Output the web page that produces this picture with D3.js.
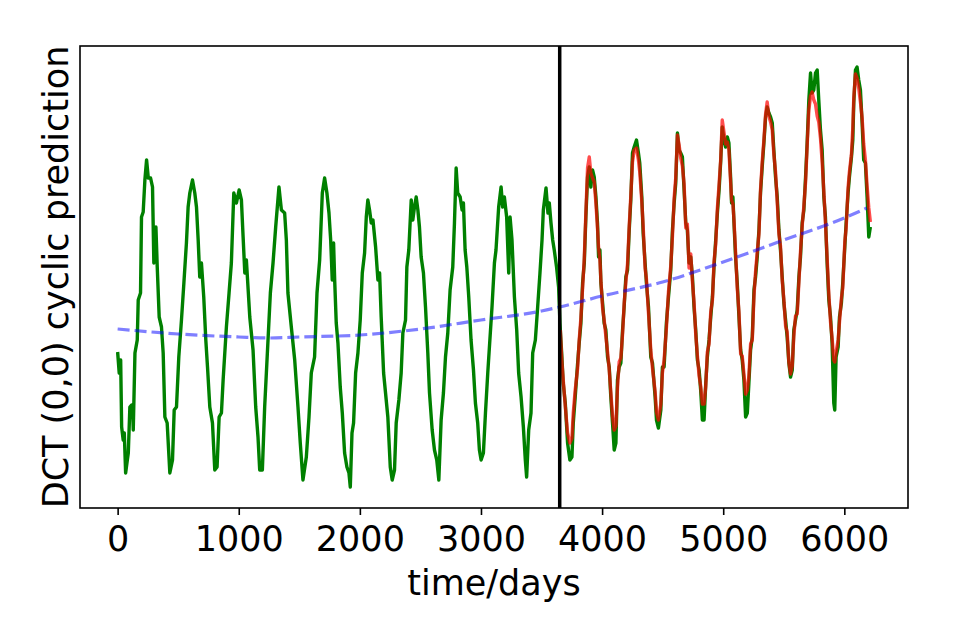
<!DOCTYPE html>
<html>
<head>
<meta charset="utf-8">
<script src="https://cdn.jsdelivr.net/npm/d3@7/dist/d3.min.js"></script>
<style>
  body { margin: 0; background: #fff; }
  text { font-family: "DejaVu Sans", sans-serif; }
</style>
</head>
<body>
<div id="chart"></div>
<script>
var greenPts = [
  [0,15.6],[13,13.5],[25,14.8],[33,8.1],[46,6.8],[55,7.5],[66,3.5],[80,4.8],[88,5.5],[101,10.1],[115,10.3],[123,10.1],[129,7.8],
  [143,15.5],[162,16.8],[170,20.8],[189,21.5],[197,29.1],[211,29.6],[225,32.8],[239,34.8],[253,33.0],[272,33.0],[288,32.1],
  [299,24.5],[316,28.1],[327,24.1],[343,19.1],[362,18.1],[376,15.5],[390,9.1],[409,8.5],[431,3.5],[453,4.8],[467,9.8],[486,10.1],
  [505,15.1],[527,18.8],[547,22.5],[568,26.5],[582,30.1],[596,31.5],[618,32.8],[637,31.5],[651,30.1],[665,26.8],[678,23.1],
  [692,24.5],[711,21.1],[728,16.8],[742,14.1],[761,10.1],[783,8.5],[802,3.8],[821,4.1],[838,9.1],[857,9.5],[871,12.8],[898,18.1],
  [920,21.5],[939,24.5],[959,31.5],[981,30.5],[1003,31.8],[1022,30.8],[1036,27.1],[1050,23.5],[1063,24.8],[1091,19.1],[1118,15.8],
  [1140,10.1],[1159,7.1],[1173,3.8],[1195,3.8],[1214,10.1],[1228,13.5],[1261,21.5],[1283,24.5],[1305,28.1],[1332,32.1],[1352,29.8],
  [1379,29.5],[1393,26.8],[1406,21.5],[1434,18.1],[1462,14.8],[1489,10.1],[1508,6.5],[1530,2.8],[1558,5.1],[1580,9.1],[1599,13.5],
  [1626,15.1],[1646,21.5],[1668,24.8],[1690,31.5],[1709,33.0],[1728,31.5],[1745,29.5],[1759,26.8],[1772,22.8],[1783,26.5],
  [1792,22.8],[1805,18.5],[1819,16.5],[1838,12.1],[1855,9.5],[1874,5.5],[1893,4.1],[1910,3.5],[1921,2.1],[1935,7.5],[1948,8.5],
  [1965,13.5],[1984,15.5],[2003,18.8],[2020,23.5],[2039,25.5],[2053,29.1],[2066,30.8],[2080,29.8],[2094,28.5],[2108,28.8],
  [2130,26.1],[2149,22.8],[2163,23.5],[2176,19.1],[2196,13.5],[2212,11.5],[2231,9.1],[2251,4.1],[2267,2.8],[2286,3.8],[2300,8.5],
  [2322,10.8],[2341,13.5],[2355,17.5],[2377,18.8],[2388,24.1],[2404,25.8],[2424,30.8],[2437,28.8],[2451,30.1],[2465,31.1],
  [2479,29.8],[2492,28.1],[2506,25.1],[2525,23.5],[2542,20.1],[2561,15.5],[2575,11.5],[2597,7.8],[2616,5.8],[2635,4.8],[2652,2.8],
  [2671,8.8],[2690,11.5],[2707,15.1],[2726,17.5],[2745,21.8],[2767,24.1],[2781,28.5],[2795,34.0],[2808,31.5],[2828,31.1],
  [2844,29.8],[2855,30.5],[2869,25.8],[2883,24.1],[2899,21.1],[2918,16.8],[2938,13.8],[2954,10.5],[2973,8.5],[2987,5.8],[3001,4.8],
  [3020,5.5],[3037,9.5],[3056,13.5],[3075,17.1],[3091,20.1],[3111,24.5],[3124,25.8],[3146,30.1],[3166,32.1],[3179,30.1],
  [3193,31.1],[3212,29.1],[3229,23.5],[3240,29.1],[3256,26.8],[3276,21.1],[3295,17.8],[3311,13.5],[3331,11.1],[3350,8.1],
  [3366,4.8],[3377,3.1],[3394,7.8],[3413,9.5],[3427,15.5],[3449,16.8],[3468,20.1],[3487,23.5],[3504,26.8],[3515,29.8],[3537,32.0],
  [3553,29.5],[3564,30.5],[3578,28.5],[3592,26.8],[3605,25.8],[3624,24.1],[3641,22.1],[3652,18.5],[3668,15.1],[3679,12.5],
  [3696,10.5],[3715,6.5],[3734,4.8],[3751,5.1],[3762,8.5],[3778,11.1],[3798,14.5],[3811,16.5],[3825,18.5],[3839,22.5],[3853,24.5],
  [3866,29.1],[3880,33.1],[3894,34.1],[3907,32.1],[3921,33.8],[3935,33.1],[3949,31.1],[3962,28.5],[3971,25.1],[3982,25.8],
  [3990,22.5],[4004,20.5],[4017,18.5],[4031,17.8],[4045,15.1],[4059,14.1],[4072,11.1],[4086,8.5],[4100,5.8],[4114,6.5],[4127,12.8],
  [4141,14.1],[4155,14.5],[4169,17.8],[4182,20.1],[4196,23.1],[4210,23.8],[4224,27.8],[4237,30.8],[4251,35.5],[4265,36.1],
  [4284,36.8],[4300,35.5],[4311,34.5],[4328,31.1],[4339,27.5],[4355,24.5],[4366,22.5],[4383,20.1],[4402,15.1],[4416,14.5],
  [4438,11.1],[4449,8.8],[4465,8.0],[4485,9.8],[4498,14.1],[4512,14.1],[4531,18.5],[4548,21.1],[4567,23.8],[4581,27.8],[4595,30.5],
  [4608,32.5],[4622,37.5],[4636,35.8],[4649,35.5],[4663,35.1],[4677,31.8],[4691,28.5],[4704,27.8],[4718,24.5],[4732,25.1],
  [4746,23.1],[4759,20.1],[4773,17.8],[4787,14.8],[4801,13.8],[4814,11.8],[4828,8.8],[4842,8.8],[4856,12.5],[4869,15.1],
  [4883,16.8],[4897,19.1],[4911,21.1],[4924,24.1],[4938,26.8],[4952,29.5],[4966,31.8],[4979,34.6],[4992,38.1],[5006,36.8],
  [5020,36.1],[5034,37.1],[5047,36.5],[5061,33.1],[5069,30.5],[5080,31.1],[5089,28.5],[5102,25.1],[5116,22.5],[5130,19.1],
  [5144,15.8],[5157,14.8],[5171,12.8],[5185,9.1],[5199,9.5],[5212,12.5],[5226,15.8],[5240,17.1],[5254,21.8],[5267,23.1],
  [5281,25.1],[5295,27.8],[5308,31.5],[5322,34.1],[5336,36.5],[5350,39.1],[5363,40.1],[5377,39.5],[5391,39.1],[5405,38.5],
  [5418,35.8],[5432,33.1],[5446,31.1],[5460,27.8],[5473,25.8],[5487,23.1],[5501,20.5],[5515,18.8],[5528,17.1],[5542,14.5],
  [5556,13.1],[5570,13.8],[5583,17.8],[5597,18.8],[5611,19.8],[5625,23.1],[5638,25.1],[5652,28.5],[5666,29.8],[5680,33.1],
  [5693,36.5],[5707,40.8],[5721,43.5],[5734,41.5],[5748,41.8],[5762,43.5],[5776,43.8],[5789,40.8],[5803,37.8],[5817,35.8],
  [5831,31.1],[5844,29.1],[5858,24.5],[5872,20.8],[5886,19.1],[5899,16.5],[5913,10.5],[5921,9.8],[5932,15.1],[5949,16.1],
  [5960,19.1],[5976,20.5],[5987,22.5],[6004,26.1],[6015,28.5],[6031,31.5],[6042,33.1],[6059,35.1],[6070,36.8],[6078,40.5],
  [6092,43.8],[6105,44.1],[6119,42.8],[6133,41.8],[6147,38.5],[6160,34.8],[6174,34.5],[6188,31.1],[6202,27.1],[6215,28.1]
];

// cyclic prediction after the split (day, value)
var redPts = [
  [3655,17.8],[3668,14.6],[3679,12.8],[3696,10.2],[3715,7.5],[3734,6.5],[3751,7.0],[3762,9.5],[3778,11.8],[3798,14.0],[3811,16.8],
  [3825,19.0],[3839,22.0],[3853,25.0],[3866,29.5],[3880,34.0],[3894,35.1],[3907,33.5],[3921,33.0],[3935,32.6],[3949,30.5],
  [3962,28.0],[3971,26.0],[3982,24.8],[3990,22.8],[4004,20.0],[4017,18.8],[4031,17.2],[4045,15.6],[4059,13.8],[4072,11.6],
  [4086,9.2],[4100,7.8],[4114,8.2],[4127,12.0],[4141,14.6],[4155,15.0],[4169,17.4],[4182,20.4],[4196,22.6],[4210,24.4],[4224,28.2],
  [4237,31.2],[4251,34.6],[4265,35.8],[4284,36.0],[4300,34.8],[4311,33.6],[4328,30.6],[4339,28.2],[4355,24.0],[4366,22.9],
  [4383,19.5],[4402,15.8],[4416,14.0],[4438,11.6],[4449,9.6],[4465,8.8],[4485,10.4],[4498,13.5],[4512,14.8],[4531,18.0],
  [4548,21.6],[4567,24.2],[4581,27.2],[4595,31.0],[4608,33.0],[4622,37.3],[4636,36.3],[4649,35.0],[4663,34.2],[4677,32.4],
  [4691,28.0],[4704,28.4],[4718,24.0],[4732,25.4],[4746,22.6],[4759,20.6],[4773,17.4],[4787,15.2],[4801,13.2],[4814,12.2],
  [4828,10.4],[4842,10.4],[4856,12.2],[4869,15.6],[4883,16.4],[4897,19.6],[4911,20.8],[4924,24.6],[4938,26.4],[4952,30.0],
  [4966,32.4],[4979,34.8],[4992,38.8],[5006,37.6],[5020,36.4],[5034,36.6],[5047,35.8],[5061,32.6],[5069,30.8],[5080,30.4],
  [5089,28.8],[5102,25.6],[5116,22.0],[5130,19.6],[5144,15.4],[5157,15.2],[5171,13.4],[5185,11.4],[5199,11.8],[5212,13.2],
  [5226,16.4],[5240,16.8],[5254,21.2],[5267,23.6],[5281,25.6],[5295,27.4],[5308,31.8],[5322,34.6],[5336,36.8],[5350,39.4],
  [5363,40.6],[5377,39.2],[5391,38.6],[5405,37.8],[5418,35.4],[5432,33.6],[5446,30.6],[5460,27.4],[5473,26.2],[5487,22.8],
  [5501,20.8],[5515,18.2],[5528,17.6],[5542,14.6],[5556,13.4],[5570,14.2],[5583,17.2],[5597,19.2],[5611,19.4],[5625,22.6],
  [5638,25.6],[5652,28.2],[5666,30.2],[5680,32.6],[5693,36.2],[5707,39.8],[5721,41.2],[5734,41.6],[5748,40.8],[5762,40.4],
  [5776,39.2],[5789,38.6],[5803,37.0],[5817,34.6],[5831,31.6],[5844,28.6],[5858,25.0],[5872,21.4],[5886,18.6],[5899,17.0],
  [5913,14.8],[5921,14.6],[5932,15.6],[5949,16.8],[5960,18.6],[5976,21.0],[5987,22.0],[6004,26.6],[6015,28.0],[6031,32.0],
  [6042,33.6],[6059,35.4],[6070,38.0],[6078,41.0],[6092,43.4],[6105,43.0],[6119,42.0],[6133,40.6],[6147,39.0],[6160,36.4],
  [6174,34.8],[6188,32.2],[6202,30.0],[6215,28.6]
];

// slow trend (dashed)
var trendPts = [
  [0,17.9],[500,17.4],[1000,17.1],[1250,17.0],[1500,17.1],[2000,17.3],[2500,17.9],[3000,18.8],
  [3500,19.7],[3650,20.1],[4000,21.2],[4500,22.6],[5000,24.6],[5500,26.8],[6000,29.0],[6186,30.0]
];

var xTicks = [0, 1000, 2000, 3000, 4000, 5000, 6000];
var splitDay = 3650;

var opt = {
  width: 955, height: 637,
  margin: {top: 46, right: 47, bottom: 129, left: 80}
};
opt.inWidth = opt.width - opt.margin.left - opt.margin.right;
opt.inHeight = opt.height - opt.margin.top - opt.margin.bottom;

var svg = d3.select('#chart').append('svg')
  .attr('width', opt.width)
  .attr('height', opt.height);
var g = svg.append('g')
  .attr('transform', `translate(${opt.margin.left},${opt.margin.top})`);

// matplotlib-style 5% padding around the data range
var xMin = 0, xMax = d3.max(greenPts, d => d[0]);
var pad = (xMax - xMin) * 0.05;
var xScale = d3.scaleLinear().domain([xMin - pad, xMax + pad]).range([0, opt.inWidth]);
var yScale = d3.scaleLinear().domain([0, 46.2]).range([opt.inHeight, 0]);

var line = d3.line().x(d => xScale(d[0])).y(d => yScale(d[1]));

g.append('path').datum(greenPts)
  .attr('d', line)
  .style('fill', 'none')
  .style('stroke', '#008000')
  .style('stroke-width', 3.4)
  .style('stroke-linejoin', 'round');

g.append('path').datum(redPts)
  .attr('d', line)
  .style('fill', 'none')
  .style('stroke', '#ff0000')
  .style('stroke-opacity', 0.7)
  .style('stroke-width', 3.4)
  .style('stroke-linejoin', 'round');

g.append('path').datum(trendPts)
  .attr('d', line.curve(d3.curveMonotoneX))
  .style('fill', 'none')
  .style('stroke', '#0000ff')
  .style('stroke-opacity', 0.5)
  .style('stroke-width', 3.2)
  .style('stroke-dasharray', '12,5');

g.append('line')
  .attr('x1', xScale(splitDay)).attr('x2', xScale(splitDay))
  .attr('y1', 0).attr('y2', opt.inHeight)
  .style('stroke', '#000')
  .style('stroke-width', 3.5);

// frame
g.append('rect')
  .attr('width', opt.inWidth).attr('height', opt.inHeight)
  .style('fill', 'none').style('stroke', '#000').style('stroke-width', 1.6);

// x axis
var xAxis = g.append('g')
  .attr('transform', `translate(0,${opt.inHeight})`)
  .call(d3.axisBottom(xScale).tickValues(xTicks).tickSize(7).tickFormat(d3.format('d')));
xAxis.select('.domain').remove();
xAxis.selectAll('line').style('stroke', '#000').style('stroke-width', 1.6);
xAxis.selectAll('text')
  .attr('y', 43).attr('dy', null)
  .style('font-size', '35px')
  .style('fill', '#000');

g.append('text')
  .attr('x', opt.inWidth / 2)
  .attr('y', opt.inHeight + 87)
  .style('text-anchor', 'middle')
  .style('font-size', '35px')
  .text('time/days');

g.append('text')
  .attr('transform', `translate(${68 - opt.margin.left},${opt.inHeight / 2}) rotate(-90)`)
  .style('text-anchor', 'middle')
  .style('font-size', '35px')
  .text('DCT (0,0) cyclic prediction');
</script>
</body>
</html>
